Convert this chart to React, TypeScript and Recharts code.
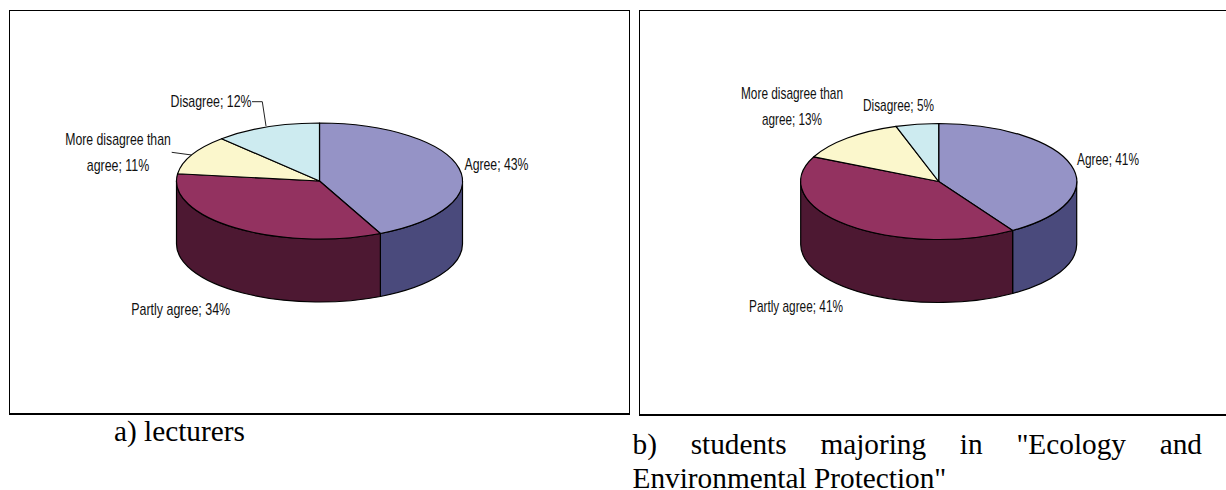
import { PieChart, Pie } from "recharts";

const categories = ["Agree", "Partly agree", "More disagree than agree", "Disagree"];
const lecturers = [43, 34, 11, 12];
const students = [41, 41, 13, 5];
const topColors = ["#9593C6", "#933260", "#FBF7CC", "#CDEBF0"];
const sideColors = ["#4A4A7C", "#4D1832", "#7D7B66", "#667578"];

const RY_A = 58;
const RY_B = 58;
const DEPTH = 63;
const LINE_GAP = 25.5;

// label placement: centre x, baseline y, drawn width(s), same order as categories
const spotsA = [
  { x: 496.5, y: 169.5, w: [64] },
  { x: 180.7, y: 315, w: [99] },
  { x: 118, y: 145, w: [105.6, 62.5] },
  { x: 211, y: 107, w: [81] },
];
const spotsB = [
  { x: 1108, y: 165, w: [62] },
  { x: 796, y: 311.7, w: [94] },
  { x: 792, y: 99, w: [102, 60] },
  { x: 898.5, y: 111, w: [71] },
];

const toData = (values: number[]) =>
  categories.map((name, i) => ({ name, value: values[i], top: topColors[i], side: sideColors[i] }));

const pt = (cx: number, cy: number, rx: number, ry: number, deg: number) => {
  const a = (deg * Math.PI) / 180;
  return [cx + rx * Math.cos(a), cy - ry * Math.sin(a)];
};

const topShape = (ry: number) => (p: any) => {
  const { cx, cy, outerRadius: rx, startAngle, endAngle, payload } = p;
  const [x1, y1] = pt(cx, cy, rx, ry, startAngle);
  const [x2, y2] = pt(cx, cy, rx, ry, endAngle);
  const large = Math.abs(startAngle - endAngle) > 180 ? 1 : 0;
  const d = `M${cx},${cy} L${x1},${y1} A${rx},${ry} 0 ${large} 1 ${x2},${y2} Z`;
  return <path d={d} fill={p.fill ?? payload?.top} stroke="#000" strokeWidth={1.2} strokeLinejoin="round" />;
};

// only the front half of the cylinder wall can be seen
const sideShape = (ry: number) => (p: any) => {
  const { cx, cy, outerRadius: rx, startAngle, endAngle, payload } = p;
  const a1 = Math.min(startAngle, 0);
  const a2 = Math.max(endAngle, -180);
  if (a1 <= a2) return <g />;
  const [x1, y1] = pt(cx, cy, rx, ry, a1);
  const [x2, y2] = pt(cx, cy, rx, ry, a2);
  const d = `M${x1},${y1} A${rx},${ry} 0 0 1 ${x2},${y2} L${x2},${y2 + DEPTH} A${rx},${ry} 0 0 0 ${x1},${y1 + DEPTH} Z`;
  return <path d={d} fill={p.fill ?? payload?.side} stroke="#000" strokeWidth={1.2} strokeLinejoin="round" />;
};

// the original labels are in a narrow face, so the glyphs get squeezed to the measured width
const labelOf = (spots: { x: number; y: number; w: number[] }[]) => (p: any) => {
  const spot = spots[p.index];
  const text = `${p.name}; ${p.value}%`;
  const cut = text.indexOf("than") + 4;
  const lines = spot.w.length > 1 ? [text.slice(0, cut), text.slice(cut + 1)] : [text];
  return (
    <g>
      {lines.map((line, i) => (
        <text
          key={line}
          x={spot.x - spot.w[i] / 2}
          y={spot.y + i * LINE_GAP}
          textLength={spot.w[i]}
          lengthAdjust="spacingAndGlyphs"
          style={{ fontFamily: '"Liberation Sans", sans-serif', fontSize: 17, fill: "#111" }}
        >
          {line}
        </text>
      ))}
    </g>
  );
};

function Cylinder({ values, cx, cy, rx, ry, spots }: any) {
  const data = toData(values);
  return (
    <div style={{ position: "absolute", left: 0, top: 0 }}>
      <PieChart width={1226} height={490} margin={{ top: 0, right: 0, bottom: 0, left: 0 }}>
        <Pie
          data={data.map((d) => ({ ...d, fill: d.side }))}
          dataKey="value"
          nameKey="name"
          cx={cx}
          cy={cy}
          innerRadius={0}
          outerRadius={rx}
          startAngle={90}
          endAngle={-270}
          stroke="#000"
          shape={sideShape(ry)}
          isAnimationActive={false}
        />
        <Pie
          data={data.map((d) => ({ ...d, fill: d.top }))}
          dataKey="value"
          nameKey="name"
          cx={cx}
          cy={cy}
          innerRadius={0}
          outerRadius={rx}
          startAngle={90}
          endAngle={-270}
          stroke="#000"
          shape={topShape(ry)}
          label={labelOf(spots)}
          labelLine={false}
          isAnimationActive={false}
        />
      </PieChart>
    </div>
  );
}

const frame = {
  position: "absolute",
  boxSizing: "border-box",
  background: "#fff",
  borderStyle: "solid",
  borderColor: "#000",
  borderWidth: "1.5px 1px 2px 1px",
} as const;

const caption = {
  position: "absolute",
  fontFamily: '"Liberation Serif", serif',
  fontSize: 29.3,
  color: "#000",
} as const;

export default function App() {
  return (
    <div style={{ position: "absolute", left: 0, top: 0, width: 1226, height: 490, overflow: "hidden", background: "#fff" }}>
      <div style={{ ...frame, left: 9, top: 10, width: 621, height: 405 }} />
      <div style={{ ...frame, left: 639, top: 10, width: 600, height: 406 }} />
      <Cylinder values={lecturers} cx={319.5} cy={181} rx={143} ry={RY_A} spots={spotsA} />
      <Cylinder values={students} cx={938.7} cy={181.5} rx={138} ry={RY_B} spots={spotsB} />
      <svg width={1226} height={490} style={{ position: "absolute", left: 0, top: 0, pointerEvents: "none" }}>
        <polyline points="252,101.7 262.3,101.7 266,126" fill="none" stroke="#222" strokeWidth={1} />
        <polyline points="171.7,152.3 191.7,155" fill="none" stroke="#222" strokeWidth={1} />
      </svg>
      <div style={{ ...caption, left: 114, top: 415, lineHeight: "33.3px", whiteSpace: "nowrap" }}>a) lecturers</div>
      <div style={{ ...caption, left: 632.5, top: 428.4, width: 569.5, lineHeight: "33.3px", textAlign: "justify" }}>
        b) students majoring in "Ecology and Environmental Protection"
      </div>
    </div>
  );
}
